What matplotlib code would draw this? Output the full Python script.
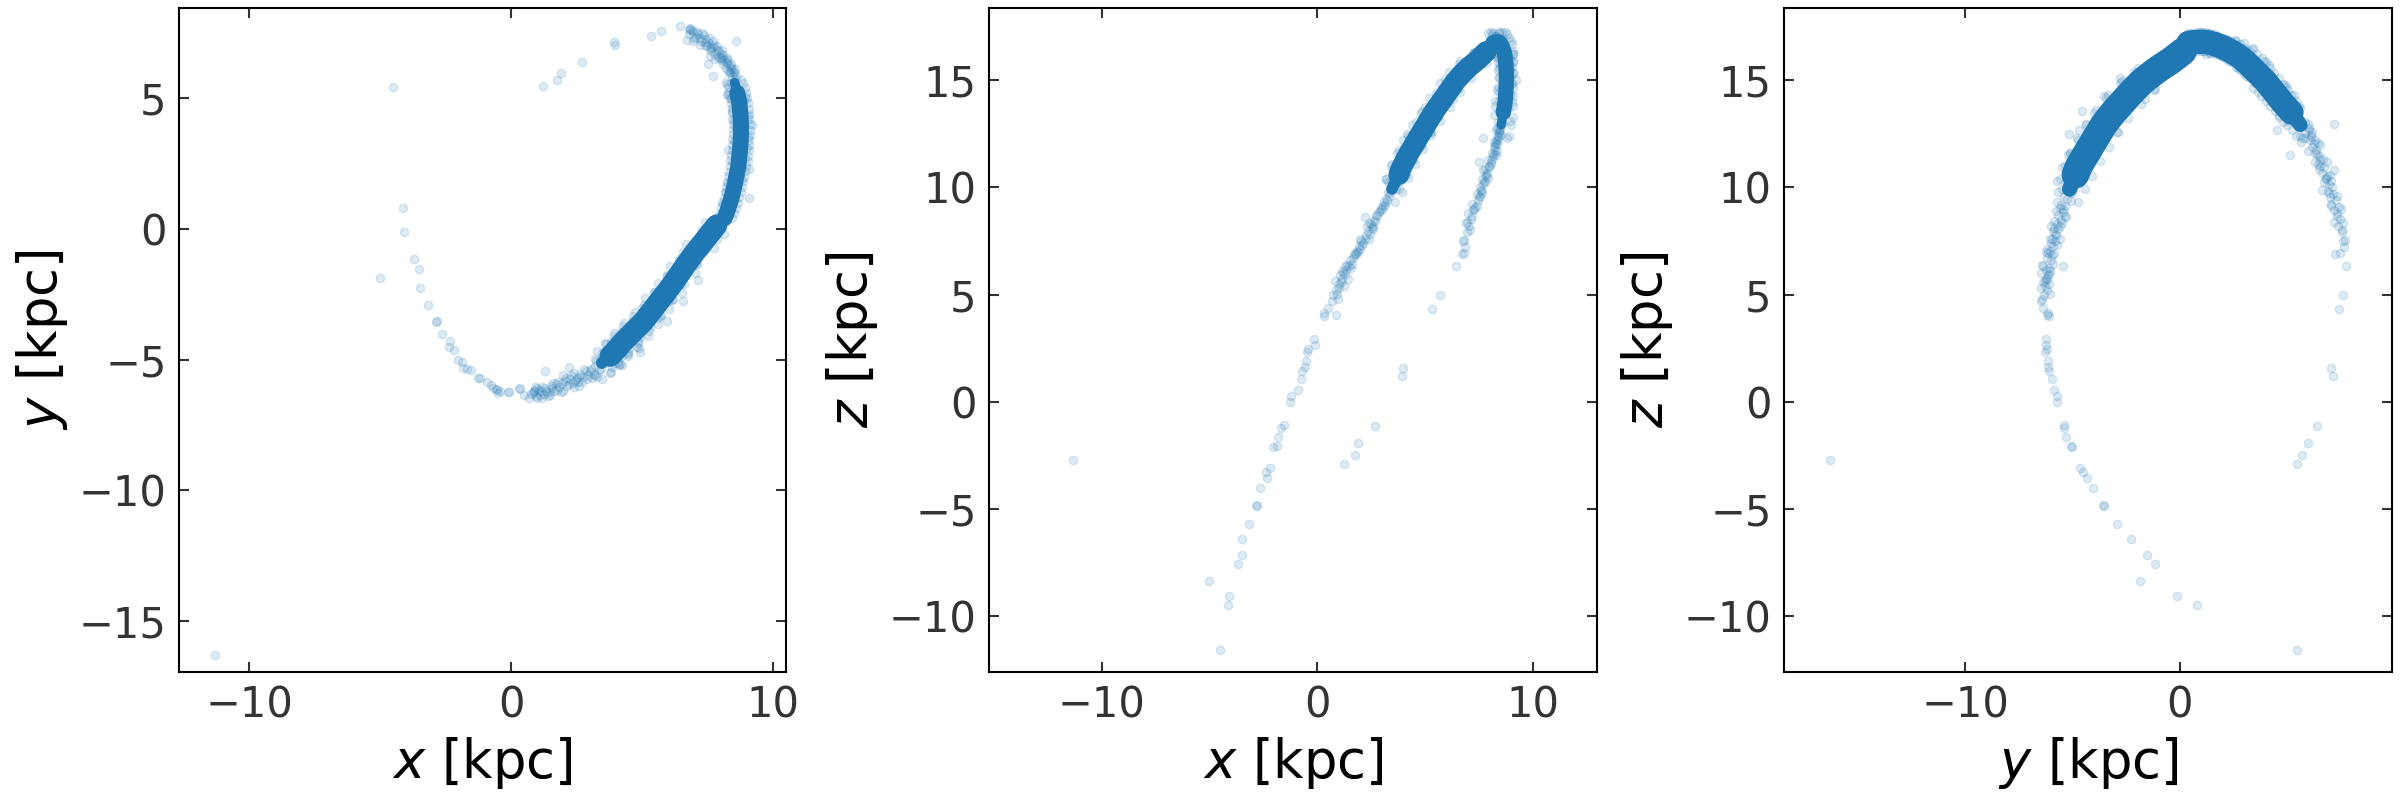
import matplotlib
matplotlib.use("Agg")
import matplotlib.pyplot as plt

# ---------------- data: stream particles (x, y, z) in kpc ----------------
# sparse stars of the far tail (lower z side)
tail_b = [
    (-11.32, -16.30, -2.73), (-4.52, 5.44, -11.57), (-4.12, 0.81, -9.48),
    (-4.07, -0.12, -9.05), (-5.02, -1.87, -8.36), (-3.69, -1.16, -7.60),
    (-3.50, -1.52, -7.15), (-3.48, -2.27, -6.41), (-3.17, -2.92, -5.70),
    (-2.81, -3.51, -4.89), (-2.86, -3.58, -4.80), (-2.65, -4.03, -4.03),
    (-2.34, -4.30, -3.55), (-2.36, -4.53, -3.27), (-2.17, -4.65, -3.11),
    (-2.03, -5.03, -2.13), (-1.86, -5.08, -2.05), (-1.82, -5.32, -1.63),
    (-1.67, -5.37, -1.25), (-1.53, -5.41, -1.08), (-1.27, -5.70, -0.01),
    (-1.20, -5.72, 0.25), (-0.91, -5.86, 0.53), (-0.75, -5.96, 1.08),
    (-0.68, -6.08, 1.42), (-0.56, -6.13, 1.60), (-0.53, -6.15, 1.89),
    (-0.49, -6.27, 2.32), (-0.44, -6.20, 2.44), (-0.13, -6.24, 2.91),
    (-0.08, -6.24, 2.65), (0.32, -6.08, 3.98), (0.34, -6.13, 4.15),
    (0.51, -6.36, 4.39), (0.89, -6.20, 4.05),
]

# semi-dense stars of the lower arm
arm_b = [
    (0.75, -6.31, 4.98), (0.87, -6.20, 5.22), (0.82, -6.28, 5.65), (1.06, -6.15, 5.93),
    (1.17, -6.05, 6.12), (1.34, -6.22, 6.17), (1.10, -6.35, 5.58), (1.51, -6.00, 6.60),
    (1.70, -5.95, 6.84), (1.58, -6.10, 6.24), (0.95, -6.40, 4.80), (1.25, -6.30, 5.40),
    (1.45, -6.25, 5.75), (1.85, -6.05, 7.05), (1.95, -5.90, 7.25), (1.75, -6.15, 6.95),
    (2.05, -5.80, 7.50), (2.15, -6.00, 7.40), (2.25, -5.75, 7.80), (2.35, -5.90, 7.95),
    (2.30, -5.60, 8.20), (2.50, -5.70, 8.30), (2.55, -5.85, 8.10), (2.65, -5.55, 8.50),
    (2.75, -5.65, 8.70), (2.85, -5.45, 8.85), (2.95, -5.60, 9.05), (3.05, -5.35, 9.15),
    (3.10, -5.70, 9.30), (3.20, -5.25, 9.45), (2.40, -6.05, 7.60), (1.40, -6.40, 6.40),
    (2.00, -6.20, 7.15), (1.30, -5.45, 6.35), (2.20, -5.30, 8.60),
    (0.70, -6.45, 4.70), (0.90, -6.05, 5.05), (1.00, -6.45, 5.30), (1.15, -6.20, 5.75),
    (1.20, -6.45, 6.00), (1.30, -6.10, 5.95), (1.50, -6.35, 6.35), (1.60, -5.90, 6.45),
    (1.65, -6.20, 6.70), (1.80, -5.85, 6.90), (1.90, -6.25, 7.00), (2.10, -5.70, 7.30),
    (2.20, -5.95, 7.60), (2.45, -5.80, 7.85), (2.60, -5.65, 8.05), (2.40, -5.50, 8.35),
    (2.70, -5.85, 8.45), (2.80, -5.35, 8.65), (2.90, -5.75, 8.90), (3.00, -5.45, 9.00),
    (3.15, -5.55, 9.20), (3.25, -5.05, 9.35), (3.35, -5.40, 9.60), (3.40, -5.00, 9.75),
    (3.30, -5.65, 9.80), (2.60, -6.00, 8.20), (2.00, -5.60, 7.60), (1.00, -6.10, 5.50),
]

# sparse stars of the other tail (upper y side)
tail_a = [
    (1.23, 5.47, -2.92), (1.75, 5.70, -2.48), (1.89, 5.97, -1.92), (2.70, 6.37, -1.13),
    (3.93, 7.15, 1.20), (3.98, 7.03, 1.55), (5.35, 7.39, 4.33), (5.71, 7.58, 4.98),
    (6.45, 7.75, 6.33), (6.73, 7.22, 6.90), (6.83, 7.70, 7.55), (6.78, 7.60, 7.50),
    (6.80, 7.46, 6.96),
]

# semi-dense stars of the upper arm
arm_a = [
    (6.95, 7.55, 7.90), (7.05, 7.35, 8.20), (6.90, 7.62, 8.35), (7.15, 7.45, 8.55),
    (7.00, 7.30, 8.80), (7.25, 7.20, 8.95), (7.35, 7.40, 9.10), (7.20, 7.05, 9.25),
    (7.45, 7.25, 9.40), (7.50, 7.00, 9.55), (7.40, 7.15, 9.70), (7.60, 6.90, 9.85),
    (7.55, 7.10, 10.00), (7.70, 6.95, 10.15), (7.80, 6.70, 10.25), (7.65, 6.80, 10.40),
    (7.85, 6.85, 10.55), (7.90, 6.60, 10.70), (7.80, 6.50, 10.85), (8.00, 6.70, 10.95),
    (8.05, 6.45, 11.10), (7.95, 6.55, 11.30), (8.15, 6.50, 11.45), (8.10, 6.30, 11.60),
    (8.25, 6.35, 11.75), (8.20, 6.15, 11.90), (8.35, 6.25, 12.05), (8.30, 6.05, 12.20),
    (8.40, 6.10, 12.35), (8.45, 5.85, 12.55), (8.50, 6.00, 12.70), (8.55, 5.75, 12.85),
    (7.85, 7.00, 10.60), (7.60, 6.60, 9.90), (8.05, 6.85, 11.20), (7.30, 7.50, 9.00),
    (6.95, 7.20, 8.40), (8.25, 6.55, 12.00), (8.35, 5.95, 11.70), (7.70, 7.20, 10.80),
    (8.30, 5.14, 11.50), (8.45, 4.52, 12.67), (8.40, 5.60, 12.40), (8.59, 7.19, 12.98),
    (7.53, 6.29, 11.20), (7.72, 5.85, 12.30), (8.23, 5.15, 13.40),
    (6.85, 7.65, 7.20), (7.10, 7.55, 8.00), (7.20, 7.30, 8.65), (7.40, 7.05, 9.15),
    (7.55, 7.30, 9.60), (7.65, 6.95, 9.75), (7.75, 7.05, 10.30), (7.95, 6.80, 10.45),
    (8.00, 6.55, 11.00), (8.10, 6.65, 11.35), (8.20, 6.40, 11.55), (8.30, 6.45, 12.10),
    (8.40, 6.30, 12.20), (8.45, 6.15, 12.60), (8.50, 5.95, 12.95), (8.55, 6.10, 12.45),
    (8.35, 6.00, 12.80), (8.60, 5.85, 13.05),
]

# stars scattered around the dense lower arm
halo_b = [
    (3.60, -4.75, 9.30), (3.20, -5.60, 10.40), (3.95, -4.55, 10.80), (3.45, -5.35, 11.00),
    (3.85, -5.30, 10.30), (4.20, -4.30, 11.40), (3.70, -5.10, 11.60), (4.10, -4.40, 11.30),
    (4.50, -3.95, 11.90), (4.00, -4.75, 12.20), (4.45, -4.70, 11.50), (4.17, -5.18, 12.51),
    (4.95, -3.50, 12.50), (4.40, -4.35, 12.90), (4.85, -4.30, 12.20), (5.30, -3.15, 12.90),
    (4.80, -4.00, 13.50), (5.15, -3.10, 13.10), (4.87, -4.56, 13.55), (5.75, -2.60, 13.60),
    (5.20, -3.45, 14.20), (5.60, -3.40, 13.50), (6.25, -1.95, 14.30), (5.70, -2.80, 14.90),
    (6.05, -2.75, 14.20), (6.65, -1.45, 15.00), (6.10, -2.15, 15.40), (6.50, -2.10, 14.85),
    (7.15, -0.80, 15.60), (6.65, -1.30, 15.90), (7.05, -1.35, 15.45), (7.75, -0.10, 16.10),
    (7.25, -0.50, 16.30), (4.92, -4.69, 12.70), (4.22, -5.20, 11.50), (5.94, -3.54, 14.27),
    (6.58, -2.77, 15.10), (7.15, -1.94, 15.60), (6.45, -1.22, 14.53), (6.30, -1.60, 14.15),
    (5.30, -2.90, 12.60),
    (3.82, -5.48, 9.93), (3.47, -5.73, 10.29), (3.92, -5.13, 9.78),
    (3.30, -4.66, 10.27), (3.64, -4.42, 9.93), (3.20, -4.99, 10.40),
    (4.12, -5.20, 10.60), (3.79, -5.50, 10.98), (4.22, -4.86, 10.45),
    (3.58, -4.36, 10.93), (3.92, -4.10, 10.55), (3.49, -4.73, 11.10),
    (4.46, -4.88, 11.27), (4.09, -5.12, 11.62), (4.52, -4.54, 11.10),
    (3.93, -3.98, 11.60), (4.26, -3.72, 11.22), (3.82, -4.34, 11.75),
    (4.80, -4.50, 11.93), (4.46, -4.78, 12.32), (4.92, -4.14, 11.78),
    (4.30, -3.60, 12.27), (4.66, -3.32, 11.90), (4.20, -3.94, 12.42),
    (5.22, -4.08, 12.60), (4.86, -4.36, 12.95), (5.30, -3.74, 12.45),
    (4.72, -3.18, 12.93), (5.06, -2.92, 12.58), (4.60, -3.54, 13.08),
    (5.60, -3.64, 13.27), (5.26, -3.90, 13.62), (5.72, -3.28, 13.12),
    (5.12, -2.66, 13.60), (5.47, -2.40, 13.25), (5.02, -3.01, 13.75),
    (6.05, -3.06, 13.93), (5.70, -3.33, 14.30), (6.15, -2.71, 13.78),
    (5.60, -2.06, 14.27), (5.94, -1.80, 13.92), (5.50, -2.41, 14.42),
    (6.52, -2.45, 14.60), (6.17, -2.70, 14.95), (6.62, -2.10, 14.45),
    (6.06, -1.42, 14.93), (6.40, -1.17, 14.60), (5.95, -1.77, 15.08),
    (7.02, -1.68, 15.27), (6.69, -1.75, 15.47), (7.12, -1.35, 15.12),
    (6.70, -0.58, 15.60), (7.02, -0.50, 15.40), (6.58, -0.90, 15.75),
    (7.75, -0.72, 15.93), (7.42, -0.80, 16.13), (7.85, -0.40, 15.80),
    (7.40, 0.28, 16.20), (7.70, 0.35, 16.00), (7.28, -0.05, 16.32),
    (8.15, -0.18, 16.35),
]

# stars scattered around the dense upper arm
halo_a = [
    (8.10, 0.95, 17.10), (8.55, 1.10, 16.35), (8.30, 1.75, 17.05), (8.80, 1.90, 16.20),
    (8.45, 2.55, 16.90), (8.95, 2.70, 15.60), (8.50, 3.35, 16.50), (9.05, 3.50, 14.90),
    (8.50, 4.15, 15.70), (9.05, 4.30, 14.00), (8.40, 4.95, 14.70), (8.95, 5.05, 13.10),
    (8.25, 5.55, 13.80), (8.80, 5.70, 12.30), (9.22, 3.97, 15.00), (9.10, 2.30, 15.90),
    (8.62, 4.60, 13.40), (8.90, 4.90, 14.80), (8.30, 3.00, 16.75), (8.60, 3.90, 15.90),
    (8.70, 5.30, 14.30), (9.00, 3.10, 15.20), (8.65, 2.20, 16.95), (8.20, 1.40, 16.30),
    (9.10, 1.20, 16.25), (8.45, 0.95, 17.25),
    (8.45, 0.40, 17.20), (7.85, 0.40, 16.30), (8.53, 0.62, 16.33), (7.93, 0.58, 17.23),
    (8.60, 0.80, 17.25), (8.00, 0.82, 16.35), (8.66, 1.00, 16.35), (8.06, 1.02, 17.25),
    (8.72, 1.22, 17.25), (8.12, 1.18, 16.35), (8.77, 1.40, 16.30), (8.17, 1.42, 17.20),
    (8.82, 1.60, 17.15), (8.22, 1.62, 16.25), (8.86, 1.82, 16.18), (8.26, 1.78, 17.08),
    (8.90, 2.00, 17.00), (8.30, 2.02, 16.10), (8.94, 2.22, 16.00), (8.34, 2.18, 16.90),
    (8.98, 2.40, 16.85), (8.38, 2.42, 15.85), (9.03, 2.60, 15.63), (8.38, 2.62, 16.83),
    (9.05, 2.80, 16.70), (8.40, 2.82, 15.50), (9.07, 3.00, 15.33), (8.42, 3.02, 16.53),
    (9.09, 3.20, 16.35), (8.44, 3.22, 15.15), (9.10, 3.40, 14.65), (8.45, 3.42, 16.45),
    (9.11, 3.60, 16.25), (8.46, 3.62, 14.45), (9.11, 3.80, 14.25), (8.46, 3.82, 16.05),
    (9.11, 4.00, 15.85), (8.46, 4.02, 14.05), (9.10, 4.20, 13.80), (8.45, 4.22, 15.60),
    (9.09, 4.40, 15.35), (8.44, 4.42, 13.55), (9.07, 4.60, 13.30), (8.42, 4.62, 15.10),
    (9.05, 4.80, 14.85), (8.40, 4.82, 13.05), (9.01, 5.00, 12.93), (8.36, 5.02, 14.53),
    (8.97, 5.20, 14.30), (8.32, 5.22, 12.70), (8.92, 5.40, 12.42), (8.27, 5.42, 14.02),
    (8.87, 5.60, 13.73), (8.22, 5.62, 12.13),
]

# ridge line of the saturated lower arm
core_b = [
    (3.47, -5.13, 9.93), (3.64, -4.99, 10.27), (3.79, -4.86, 10.60), (3.92, -4.73, 10.93),
    (4.09, -4.54, 11.27), (4.26, -4.34, 11.60), (4.46, -4.14, 11.93), (4.66, -3.94, 12.27),
    (4.86, -3.74, 12.60), (5.06, -3.54, 12.93), (5.26, -3.28, 13.27), (5.47, -3.01, 13.60),
    (5.70, -2.71, 13.93), (5.94, -2.41, 14.27), (6.17, -2.10, 14.60), (6.40, -1.77, 14.93),
    (6.69, -1.35, 15.27), (7.02, -0.90, 15.60), (7.42, -0.40, 15.93), (7.70, -0.05, 16.20),
    (7.85, 0.14, 16.35),
]

# ridge line of the saturated upper arm
core_a = [
    (8.15, 0.40, 16.75), (8.23, 0.60, 16.78), (8.30, 0.80, 16.80), (8.36, 1.00, 16.80),
    (8.42, 1.20, 16.80), (8.47, 1.40, 16.76), (8.52, 1.60, 16.70), (8.56, 1.80, 16.63),
    (8.60, 2.00, 16.55), (8.64, 2.20, 16.45), (8.68, 2.40, 16.35), (8.70, 2.60, 16.23),
    (8.72, 2.80, 16.10), (8.74, 3.00, 15.93), (8.76, 3.20, 15.75), (8.77, 3.40, 15.55),
    (8.78, 3.60, 15.35), (8.78, 3.80, 15.15), (8.78, 4.00, 14.95), (8.77, 4.20, 14.70),
    (8.76, 4.40, 14.45), (8.74, 4.60, 14.20), (8.72, 4.80, 13.95), (8.68, 5.00, 13.73),
    (8.64, 5.20, 13.50), (8.59, 5.40, 13.22), (8.54, 5.60, 12.93),
]

# axes settings
axis_names = ["x", "y", "z"]
panel_axes = [(0, 1), (0, 2), (1, 2)]
panel_xlim = [(-12.68, 10.50), (-15.23, 12.99), (-18.43, 9.88)]
panel_ylim = [(-16.95, 8.45), (-12.62, 18.38), (-12.62, 18.38)]
panel_xticks = [[-10, 0, 10], [-10, 0, 10], [-10, 0]]
panel_yticks = [[-15, -10, -5, 0, 5], [-10, -5, 0, 5, 10, 15], [-10, -5, 0, 5, 10, 15]]
# drawn width (pt) of the saturated ridges in each panel: (lower arm, upper arm)
ridge_width = [(15.5, 11.5), (15.0, 11.0), (20.0, 17.5)]


def columns(*groups):
    pts = [p for g in groups for p in g]
    return [[p[i] for p in pts] for i in range(3)]


stars = columns(tail_b, arm_b, tail_a, arm_a, halo_b, halo_a)
ridge_b = columns(core_b)
ridge_a = columns(core_a)

plt.rcParams.update({
    "font.family": ["DejaVu Sans"],
    "mathtext.fontset": "dejavusans",
})

fig = plt.figure(figsize=(24, 8), dpi=100)
positions = [
    [179 / 2400, 128 / 800, 607 / 2400, 664 / 800],
    [989 / 2400, 128 / 800, 608 / 2400, 664 / 800],
    [1784 / 2400, 128 / 800, 608 / 2400, 664 / 800],
]
color = "#1f77b4"
line_kw = dict(color=color, solid_capstyle="round", solid_joinstyle="round", zorder=2)

for k, (i, j) in enumerate(panel_axes):
    ax = fig.add_axes(positions[k])
    wb, wa = ridge_width[k]
    # lower arm: thinner where it fades into single stars
    ax.plot(ridge_b[i][:4], ridge_b[j][:4], lw=wb * 0.55, **line_kw)
    ax.plot(ridge_b[i][2:], ridge_b[j][2:], lw=wb, **line_kw)
    # upper arm: thinner at its far end
    ax.plot(ridge_a[i][:-2], ridge_a[j][:-2], lw=wa, **line_kw)
    ax.plot(ridge_a[i][-4:], ridge_a[j][-4:], lw=wa * 0.6, **line_kw)
    ax.scatter(stars[i], stars[j], s=36, color=color, alpha=0.15, zorder=3)
    ax.set_xlim(*panel_xlim[k])
    ax.set_ylim(*panel_ylim[k])
    ax.set_xticks(panel_xticks[k])
    ax.set_yticks(panel_yticks[k])
    ax.tick_params(which="both", direction="in", top=True, right=True,
                   length=7, width=1.5, pad=9, labelsize=30,
                   colors="#333333")
    for sp in ax.spines.values():
        sp.set_linewidth(1.5)
        sp.set_color("black")
    ax.set_xlabel(f"${axis_names[i]}$ [kpc]", fontsize=38, labelpad=6)
    ax.set_ylabel(f"${axis_names[j]}$ [kpc]", fontsize=38, labelpad=6)

fig.savefig("out.png", dpi=100)
